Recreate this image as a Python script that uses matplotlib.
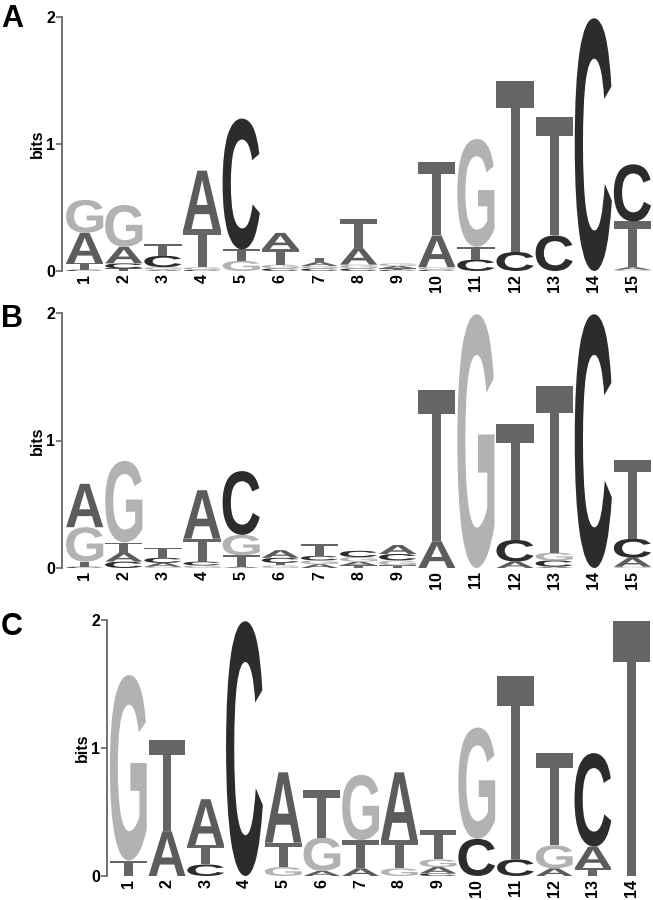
import numpy as np
import matplotlib
matplotlib.use("Agg")
import matplotlib.pyplot as plt
from matplotlib.textpath import TextPath
from matplotlib.patches import PathPatch
from matplotlib.font_manager import FontProperties
from matplotlib.transforms import Affine2D

plt.rcParams["font.family"] = ["Liberation Sans", "DejaVu Sans"]

# letter heights (bits) per position, panel A
a_A = [0.24, 0.13, 0.01, 0.46, 0.00, 0.13, 0.03, 0.13, 0.02, 0.25, 0.00, 0.00, 0.00, 0.00, 0.02]
a_C = [0.01, 0.04, 0.09, 0.01, 1.03, 0.02, 0.02, 0.02, 0.01, 0.01, 0.09, 0.15, 0.28, 1.99, 0.45]
a_G = [0.26, 0.33, 0.02, 0.02, 0.08, 0.03, 0.02, 0.03, 0.02, 0.02, 0.85, 0.00, 0.00, 0.00, 0.01]
a_T = [0.05, 0.02, 0.09, 0.30, 0.09, 0.12, 0.035, 0.23, 0.01, 0.58, 0.10, 1.35, 0.93, 0.00, 0.36]

# panel B
b_A = [0.34, 0.07, 0.03, 0.38, 0.01, 0.06, 0.03, 0.03, 0.07, 0.21, 0.00, 0.05, 0.01, 0.00, 0.07]
b_C = [0.01, 0.05, 0.04, 0.03, 0.50, 0.04, 0.035, 0.05, 0.05, 0.00, 0.00, 0.17, 0.05, 1.99, 0.15]
b_G = [0.27, 0.64, 0.01, 0.02, 0.16, 0.02, 0.03, 0.035, 0.04, 0.00, 1.99, 0.00, 0.06, 0.00, 0.01]
b_T = [0.04, 0.08, 0.08, 0.18, 0.09, 0.02, 0.09, 0.02, 0.02, 1.19, 0.00, 0.91, 1.31, 0.00, 0.62]

# panel C
c_A = [0.00, 0.35, 0.36, 0.00, 0.55, 0.04, 0.06, 0.53, 0.05, 0.00, 0.00, 0.06, 0.17, 0.00]
c_C = [0.00, 0.00, 0.09, 1.99, 0.00, 0.00, 0.00, 0.00, 0.02, 0.29, 0.13, 0.00, 0.73, 0.00]
c_G = [1.45, 0.00, 0.00, 0.00, 0.07, 0.26, 0.51, 0.06, 0.06, 0.87, 0.00, 0.18, 0.00, 0.00]
c_T = [0.12, 0.71, 0.15, 0.00, 0.19, 0.37, 0.22, 0.22, 0.23, 0.00, 1.43, 0.72, 0.06, 1.99]

colors = {"A": "#5c5c5c", "C": "#2c2c2c", "G": "#b2b2b2", "T": "#656565"}

fp = FontProperties(family="Liberation Sans", weight="bold")
glyphs = {ch: TextPath((0, 0), ch, size=1, prop=fp) for ch in "ACGT"}


def draw_letter(ax, ch, x, y0, h, w=0.95):
    p = glyphs[ch]
    ext = p.get_extents()
    t = (Affine2D().translate(-ext.x0, -ext.y0)
         .scale(w / ext.width, h / ext.height)
         .translate(x - w / 2, y0))
    ax.add_patch(PathPatch(t.transform_path(p), fc=colors[ch], ec="none",
                           clip_on=False))


def draw_logo(ax, A, C, G, T):
    n = len(A)
    for i in range(n):
        col = sorted(zip([A[i], C[i], G[i], T[i]], "ACGT"), key=lambda v: v[0])
        y = 0.0
        for h, ch in col:
            if h > 0:
                draw_letter(ax, ch, i + 1, y, h)
                y += h
    ax.set_xlim(0.42, n + 0.5)
    ax.set_ylim(0, 2)
    for s in ["top", "right", "bottom"]:
        ax.spines[s].set_visible(False)
    ax.spines["left"].set_color("#666666")
    ax.spines["left"].set_linewidth(1.3)
    ax.set_yticks([0, 1, 2])
    ax.set_yticklabels(["0", "1", "2"], fontweight="bold", fontsize=11.5)
    ax.tick_params(axis="y", length=4, width=1.2, color="#666666", pad=1)
    ax.set_xticks(np.arange(1, n + 1))
    ax.set_xticklabels([str(k) for k in range(1, n + 1)], rotation=90,
                       fontweight="bold", fontsize=11.5)
    ax.tick_params(axis="x", length=0, pad=2)
    ax.set_ylabel("bits", fontweight="bold", fontsize=11.5, labelpad=1)


fig = plt.figure(figsize=(6.53, 9.0), dpi=100)
W, H = 653, 900


def add_axes(left, right, top, bottom):
    return fig.add_axes([left / W, 1 - bottom / H, (right - left) / W, (bottom - top) / H])


axA = add_axes(62, 652, 17, 271)
axB = add_axes(62, 652, 313, 568)
axC = add_axes(107, 651, 620, 876)

draw_logo(axA, a_A, a_C, a_G, a_T)
draw_logo(axB, b_A, b_C, b_G, b_T)
draw_logo(axC, c_A, c_C, c_G, c_T)
axC.set_xlim(0.45, 14.5)

for lab, base in [("A", 27), ("B", 327), ("C", 635)]:
    fig.text(1 / W, 1 - base / H, lab, fontsize=22, fontweight="bold",
             va="baseline", ha="left")

fig.savefig("out.png", dpi=100)
